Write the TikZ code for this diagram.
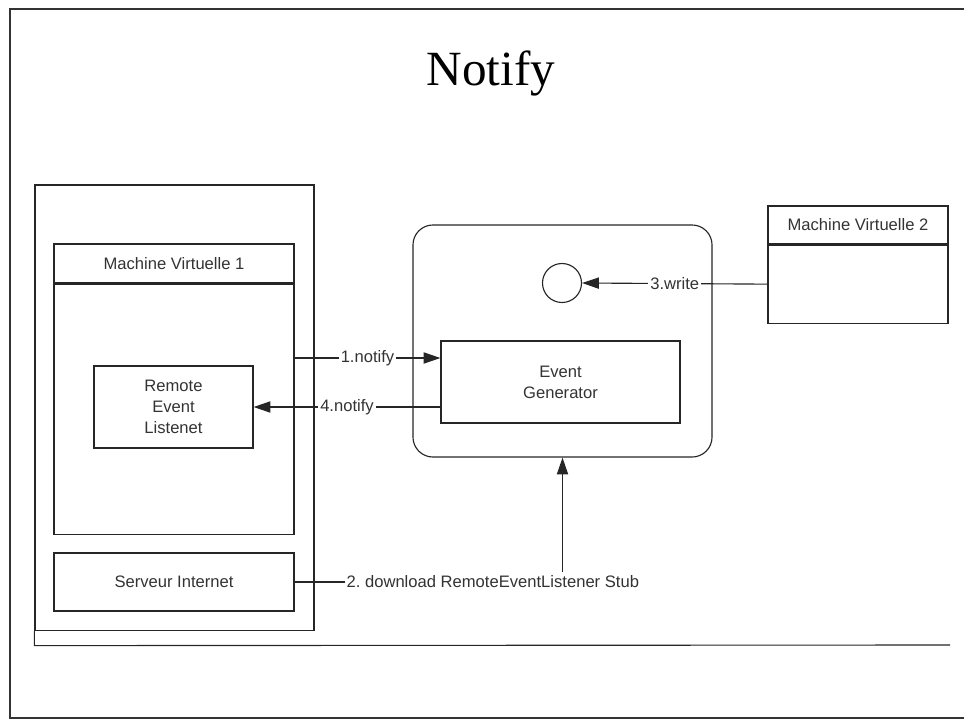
\documentclass[tikz,border=0pt]{standalone}
\usepackage{fontspec}
\setmainfont{Liberation Sans}
\newfontfamily\titlefont{Liberation Serif}
\usetikzlibrary{positioning,arrows.meta}

\begin{document}
\begin{tikzpicture}[x=0.025cm,y=0.025cm,
    box/.style={draw=black!85,line width=0.8pt,rectangle,inner sep=2pt,align=center,text=black!80,font=\fontsize{11.8}{15}\selectfont},
    flow/.style={draw=black!85,line width=0.8pt,-{Triangle[length=12pt,width=8pt]}},
    lbl/.style={fill=white,inner xsep=1.5pt,inner ysep=3pt,text=black!80,font=\fontsize{11.8}{15}\selectfont}]
    \useasboundingbox (0,0) rectangle (964,-723);
    \draw[line width=1.2pt,black!80] (964,-9) -- (10,-9) -- (10,-718) -- (964,-718);
    \node (T) at (491,-85) [anchor=base,font=\titlefont\fontsize{35}{40}\selectfont] {Notify};
    \node (PC) at (174.5,-407.5) [box,minimum width=6.975cm,minimum height=11.125cm] {};
    \draw[black!85,line width=0.8pt] (PC.south west) -- ++(0,-15) -- (950,-645);
    \node (MVa) at (174,-263.5) [box,minimum width=6cm,minimum height=0.975cm] {Machine Virtuelle 1};
    \node (MVab) [box,below=0pt of MVa,minimum width=6cm,minimum height=6.25cm] {};
    \node (REL) at (173.5,-407) [box,minimum width=3.975cm,minimum height=2.05cm] {Remote\\Event\\Listenet};
    \node (SI) at (174,-582) [box,minimum width=6cm,minimum height=1.45cm] {Serveur Internet};
    \node (JS) at (562.5,-341) [box,rounded corners=0.5cm,minimum width=7.475cm,minimum height=5.8cm] {};
    \node (C) at (562,-283) [box,circle,inner sep=0pt,minimum size=0.975cm] {};
    \node (EG) at (560.5,-382) [box,minimum width=5.975cm,minimum height=2.05cm] {Event\\Generator};
    \node (MVb) at (858,-225) [box,minimum width=4.5cm,minimum height=0.95cm] {Machine Virtuelle 2};
    \node (MVbb) [box,below=0pt of MVb,minimum width=4.5cm,minimum height=1.95cm] {};
    \coordinate (n1) at ([yshift=0.6cm]EG.west);
    \draw[flow] (MVab.east |- n1) -- node[lbl] {1.notify} (n1);
    \draw[flow] (EG.west |- REL.east) -- node[lbl] {4.notify} (REL.east);
    \draw[flow] (MVbb.west) -- node[lbl] {3.write} (C.east);
    \draw[flow] (SI.east) -| node[lbl,pos=0.37] {2.\ download RemoteEventListener Stub} (JS.south);
\end{tikzpicture}
\end{document}
